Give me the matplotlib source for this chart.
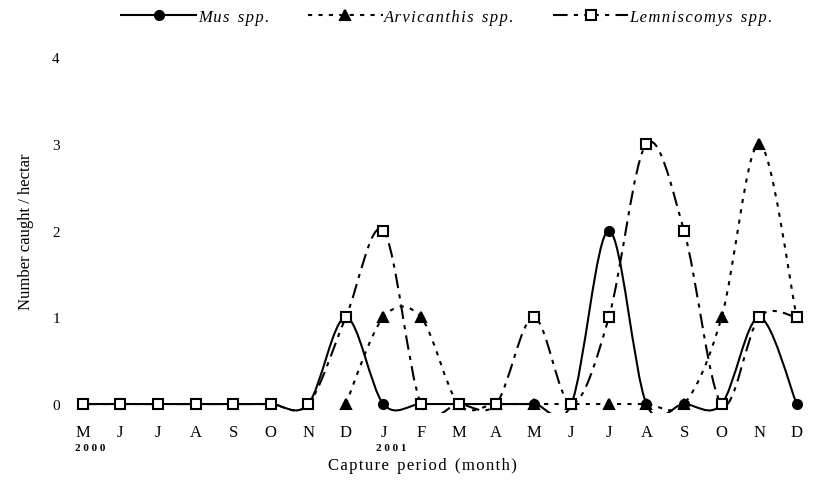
import numpy as np
import matplotlib.pyplot as plt
from matplotlib.path import Path
from matplotlib.patches import PathPatch

plt.rcParams['font.family'] = ['Liberation Serif', 'DejaVu Serif']

months = ['M', 'J', 'J', 'A', 'S', 'O', 'N', 'D', 'J', 'F',
          'M', 'A', 'M', 'J', 'J', 'A', 'S', 'O', 'N', 'D']
years = ['2000', '2001']
year_pos = [0, 8]

mus = [0, 0, 0, 0, 0, 0, 0, 1, 0, 0, 0, 0, 0, 0, 2, 0, 0, 0, 1, 0]
# Arvicanthis only recorded from December 2000 on
arv = [np.nan] * 7 + [0, 1, 1, 0, 0, 0, 0, 0, 0, 0, 1, 3, 1]
lem = [0, 0, 0, 0, 0, 0, 0, 1, 2, 0, 0, 0, 1, 0, 1, 3, 2, 0, 1, 1]


def spaced(s, sep='\u200a'):
    return sep.join(s)


def smooth_path(xs, ys):
    # bezier segments with catmull-rom style tangents (like spreadsheet "smoothed line")
    p = np.column_stack([xs, ys]).astype(float)
    p = p[~np.isnan(p[:, 1])]
    n = len(p)
    verts = [p[0]]
    codes = [Path.MOVETO]
    for i in range(n - 1):
        p0 = p[i - 1] if i > 0 else p[i]
        p3 = p[i + 2] if i + 2 < n else p[i + 1]
        c1 = p[i] + (p[i + 1] - p0) / 6
        c2 = p[i + 1] - (p3 - p[i]) / 6
        verts += [c1, c2, p[i + 1]]
        codes += [Path.CURVE4] * 3
    return Path(verts, codes)


fig = plt.figure(figsize=(8.13, 4.85), dpi=100)
ax = fig.add_axes([64 / 813, 0.147, (808 - 64) / 813, 0.751])
x = np.arange(len(months))

series = [
    (mus, '-', 'o', 'black', spaced('Mus') + '  ' + spaced('spp.')),
    (arv, (0, (2, 3)), '^', 'black', spaced('Arvicanthis') + '  ' + spaced('spp.')),
    (lem, (0, (7, 3, 2, 3)), 's', 'white', spaced('Lemniscomys') + '  ' + spaced('spp.')),
]
handles = []
for z, (ys, ls, mk, mfc, lab) in enumerate(series):
    ax.add_patch(PathPatch(smooth_path(x, ys), fill=False, edgecolor='black',
                           linestyle=ls, linewidth=1.5, zorder=2 + z))
    ax.plot(x, ys, linestyle='none', marker=mk, markersize=6.5,
            markerfacecolor=mfc, markeredgecolor='black', markeredgewidth=1.5,
            zorder=5 + z)
    h, = ax.plot([], [], linestyle=ls, marker=mk, color='black', linewidth=1.5,
                 markersize=6.5, markerfacecolor=mfc, markeredgewidth=1.5)
    handles.append((h, lab))

ax.set_xlim(-0.5, 19.3)
ax.set_ylim(-0.1, 4.1)
ax.set_xticks(x)
ax.set_xticklabels(months, fontsize=12)
ax.set_yticks([0, 1, 2, 3, 4])
ax.set_yticklabels(['0', '1', '2', '3', '4'], fontsize=11)
ax.tick_params(length=0)
ax.tick_params(axis='x', pad=8)
ax.tick_params(axis='y', pad=3)
for s in ax.spines.values():
    s.set_visible(False)

for yr, pos in zip(years, year_pos):
    ax.text(pos + 0.2, -0.5, spaced(yr, ' '), fontsize=8, fontweight='bold',
            ha='center', va='center')

ax.set_ylabel('Number caught / hectar', fontsize=12)
ax.yaxis.set_label_coords(-0.04, 0.5)
fig.text(0.52, 0.04, spaced('Capture') + '  ' + spaced('period') + '  ' + spaced('(month)'),
         fontsize=12, ha='center', va='center')

fig.legend([h for h, _ in handles], [lab for _, lab in handles],
           loc='upper center', bbox_to_anchor=(0.55, 1.01), ncol=3, frameon=False,
           handlelength=4.5, columnspacing=2.3, handletextpad=0.1,
           prop={'style': 'italic', 'size': 12})

fig.savefig('out.png', dpi=100)
